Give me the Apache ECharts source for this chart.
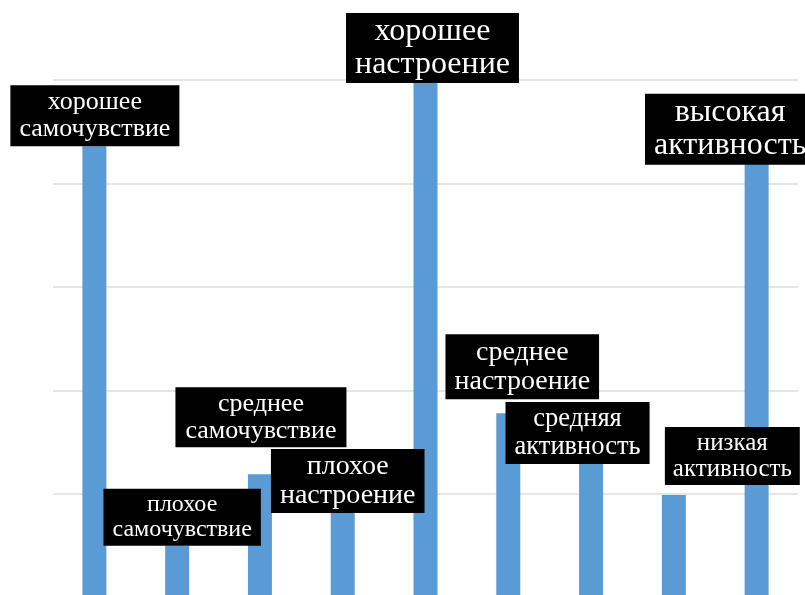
<!DOCTYPE html>
<html>
<head>
<meta charset="utf-8">
<script src="https://cdn.jsdelivr.net/npm/echarts@6/dist/echarts.min.js"></script>
<style>html,body{margin:0;padding:0;background:#fff;overflow:hidden;}#c{width:805px;height:600px;}</style>
</head>
<body>
<div id="c"></div>
<script>
// Data
const categories = ['хорошее\nсамочувствие','плохое\nсамочувствие','среднее\nсамочувствие','плохое\nнастроение','хорошее\nнастроение','среднее\nнастроение','средняя\nактивность','низкая\nактивность','высокая\nактивность'];
const values = [4.36, 0.5, 1.19, 0.85, 5.0, 1.78, 1.3, 0.99, 4.19];
const yTicks = [0, 1, 2, 3, 4, 5];

// Label layout (annotation styling, not data)
const labelOffsets = [[0.5,0],[5,0],[1,-27],[5,3.5],[7,3],[14,-14],[-13.5,1],[58.5,-10],[-26.5,1]];
const labelFont = [26,24,26,28,32,28,26.5,25,32];
const labelPad = [[3.5,9],[3.5,9],[3,10],[3,9],[2,9],[3.5,9],[3,9],[3,8],[2.5,9]];

const chart = echarts.init(document.getElementById('c'));
const data = values.map((v, i) => ({
  value: v,
  label: {
    show: true,
    position: 'top',
    distance: 0,
    formatter: () => categories[i],
    color: '#fff',
    backgroundColor: '#000',
    fontFamily: 'Liberation Serif',
    fontSize: labelFont[i],
    lineHeight: Math.round(labelFont[i] * 1.04),
    padding: labelPad[i],
    align: 'center'
  }
}));

chart.setOption({
  animation: false,
  grid: { left: 53, right: 7, top: 80, bottom: 2.5, containLabel: false },
  xAxis: {
    type: 'category',
    data: categories,
    axisLine: { show: false },
    axisTick: { show: false },
    axisLabel: { show: false }
  },
  yAxis: {
    type: 'value',
    min: yTicks[0],
    max: yTicks[yTicks.length - 1],
    interval: 1,
    axisLabel: { show: false },
    axisLine: { show: false },
    axisTick: { show: false },
    splitLine: { lineStyle: { color: '#dcdcdc', width: 1.5 } }
  },
  series: [{
    type: 'bar',
    data: data,
    barWidth: 24,
    itemStyle: { color: '#5b9bd5' },
    labelLayout: function (p) {
      const o = labelOffsets[p.dataIndex];
      return { dx: o[0], dy: o[1], hideOverlap: false };
    }
  }]
});
</script>
</body>
</html>
